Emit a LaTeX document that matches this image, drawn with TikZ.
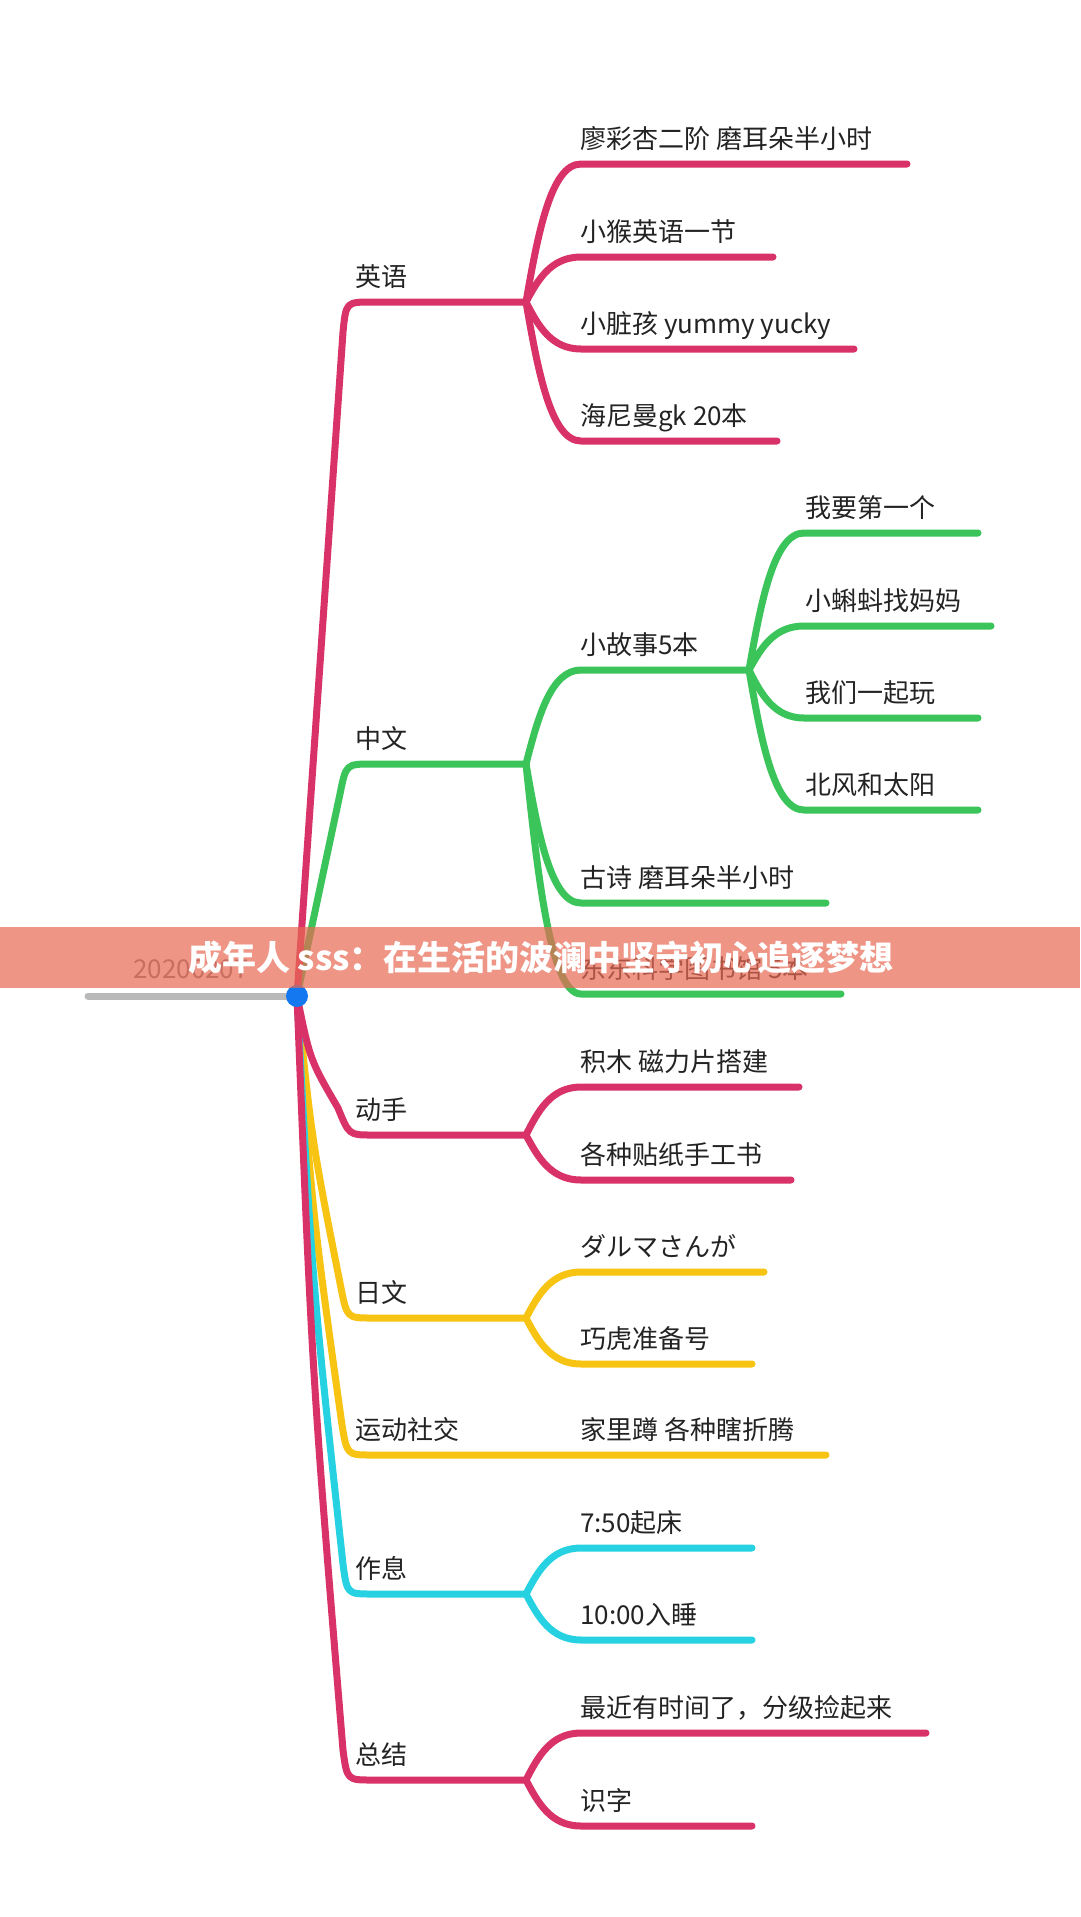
\documentclass[tikz,border=0pt]{standalone}
\usepackage{fontspec}
\setmainfont{Noto Sans CJK SC}
\definecolor{pk}{RGB}{216,50,104}
\definecolor{gr}{RGB}{58,196,90}
\definecolor{yl}{RGB}{247,196,20}
\definecolor{cy}{RGB}{38,210,225}
\definecolor{bl}{RGB}{20,120,240}
\definecolor{gy}{RGB}{185,185,185}
\definecolor{tx}{RGB}{35,35,35}
\definecolor{bn}{RGB}{232,105,84}
\definecolor{dt}{RGB}{125,125,125}
\begin{document}
\begin{tikzpicture}[x=1pt,y=-1pt,
  br/.style={line width=7pt, line cap=round, line join=round},
  lbl/.style={anchor=base west, inner sep=0pt, text=tx, font=\fontsize{26}{30}\selectfont},
]
\fill[white] (0,0) rectangle (1080,1917);
\useasboundingbox (0,0) rectangle (1080,1917);

% coordinates
\coordinate (root) at (297,996);
\coordinate (dateL) at (88,996);
\coordinate (fEN) at (526,302);
\coordinate (fZW) at (526,764);
\coordinate (fGS) at (749,670);
\coordinate (fDS) at (526,1135);
\coordinate (fJP) at (526,1318);
\coordinate (fYD) at (826,1455);
\coordinate (fZX) at (526,1594);
\coordinate (fZJ) at (526,1780);

\coordinate (e1) at (907,164);
\coordinate (e2) at (773,257);
\coordinate (e3) at (854,349);
\coordinate (e4) at (777,441);
\coordinate (g1) at (978,533);
\coordinate (g2) at (991,626);
\coordinate (g3) at (978,718);
\coordinate (g4) at (978,810);
\coordinate (z2) at (826,903);
\coordinate (z3) at (841,994);
\coordinate (d1) at (799,1087);
\coordinate (d2) at (791,1180);
\coordinate (j1) at (764,1272);
\coordinate (j2) at (752,1364);
\coordinate (x1) at (752,1548);
\coordinate (x2) at (752,1640);
\coordinate (s1) at (926,1733);
\coordinate (s2) at (752,1826);

% date line
\draw[br,gy] (dateL) -- (root);
\node[anchor=base, inner sep=0pt, text=dt, font=\fontsize{26}{30}\selectfont] (date) at (191,978) {20200207};

% main branches
\draw[br,yl] (root) .. controls (312,1142) .. (341,1288) .. controls (347,1318) .. (372,1318) -- (fJP);
\draw[br,yl] (root) .. controls (312,1210) .. (342,1425) .. controls (347,1455) .. (372,1455) -- (fYD);
\draw[br,cy] (root) .. controls (312,1280) .. (343,1564) .. controls (347,1594) .. (372,1594) -- (fZX);
\draw[br,pk] (root) .. controls (312,1373) .. (343,1750) .. controls (347,1780) .. (372,1780) -- (fZJ);
\draw[br,pk] (root) .. controls (310,1060) .. (338,1108) .. controls (349,1135) .. (372,1135) -- (fDS);
\draw[br,gr] (root) -- (340,794) .. controls (346,764) .. (372,764) -- (fZW);
\draw[br,pk] (root) -- (343,332) .. controls (346,302) .. (372,302) -- (fEN);

% English children
\draw[br,pk] (fEN) .. controls (538,233) and (551,164) .. (581,164) -- (e1);
\draw[br,pk] (fEN) .. controls (538,279.5) and (551,257) .. (581,257) -- (e2);
\draw[br,pk] (fEN) .. controls (538,325.5) and (551,349) .. (581,349) -- (e3);
\draw[br,pk] (fEN) .. controls (538,371.5) and (551,441) .. (581,441) -- (e4);

% Chinese children
\draw[br,gr] (fZW) .. controls (538,717) and (551,670) .. (581,670) -- (fGS);
\draw[br,gr] (fZW) .. controls (538,833.5) and (551,903) .. (581,903) -- (z2);
\draw[br,gr] (fZW) .. controls (538,879) and (551,994) .. (581,994) -- (z3);
\draw[br,gr] (fGS) .. controls (761,601.5) and (774,533) .. (804,533) -- (g1);
\draw[br,gr] (fGS) .. controls (761,648) and (774,626) .. (804,626) -- (g2);
\draw[br,gr] (fGS) .. controls (761,694) and (774,718) .. (804,718) -- (g3);
\draw[br,gr] (fGS) .. controls (761,740) and (774,810) .. (804,810) -- (g4);

% hands-on
\draw[br,pk] (fDS) .. controls (538,1111) and (551,1087) .. (581,1087) -- (d1);
\draw[br,pk] (fDS) .. controls (538,1157.5) and (551,1180) .. (581,1180) -- (d2);

% Japanese
\draw[br,yl] (fJP) .. controls (538,1295) and (551,1272) .. (581,1272) -- (j1);
\draw[br,yl] (fJP) .. controls (538,1341) and (551,1364) .. (581,1364) -- (j2);

% schedule
\draw[br,cy] (fZX) .. controls (538,1571) and (551,1548) .. (581,1548) -- (x1);
\draw[br,cy] (fZX) .. controls (538,1617) and (551,1640) .. (581,1640) -- (x2);

% summary
\draw[br,pk] (fZJ) .. controls (538,1756.5) and (551,1733) .. (581,1733) -- (s1);
\draw[br,pk] (fZJ) .. controls (538,1803) and (551,1826) .. (581,1826) -- (s2);

% root dot
\fill[bl] (root) circle (11);

% labels
\node[lbl] (tEN) at (355,286) {英语};
\node[lbl] (tZW) at (355,748) {中文};
\node[lbl] (tDS) at (355,1119) {动手};
\node[lbl] (tJP) at (355,1302) {日文};
\node[lbl] (tYD) at (355,1439) {运动社交};
\node[lbl] (tZX) at (355,1578) {作息};
\node[lbl] (tZJ) at (355,1764) {总结};

\node[lbl] (te1) at (580,148) {廖彩杏二阶 磨耳朵半小时};
\node[lbl] (te2) at (580,241) {小猴英语一节};
\node[lbl] (te3) at (580,333) {小脏孩 yummy yucky};
\node[lbl] (te4) at (580,425) {海尼曼gk 20本};

\node[lbl] (tGS) at (580,654) {小故事5本};
\node[lbl] (tg1) at (805,517) {我要第一个};
\node[lbl] (tg2) at (805,610) {小蝌蚪找妈妈};
\node[lbl] (tg3) at (805,702) {我们一起玩};
\node[lbl] (tg4) at (805,794) {北风和太阳};
\node[lbl] (tz2) at (580,887) {古诗 磨耳朵半小时};
\node[lbl] (tz3) at (580,978) {东东科学图书馆 5本};

\node[lbl] (td1) at (580,1071) {积木 磁力片搭建};
\node[lbl] (td2) at (580,1164) {各种贴纸手工书};
\node[lbl] (tj1) at (580,1256) {ダルマさんが};
\node[lbl] (tj2) at (580,1348) {巧虎准备号};
\node[lbl] (ty1) at (580,1439) {家里蹲 各种瞎折腾};
\node[lbl] (tx1) at (580,1532) {7:50起床};
\node[lbl] (tx2) at (580,1624) {10:00入睡};
\node[lbl] (ts1) at (580,1717) {最近有时间了，分级捡起来};
\node[lbl] (ts2) at (580,1810) {识字};

% banner
\fill[bn, opacity=0.7] (0,927) rectangle (1080,988);
\node[anchor=center, inner sep=0pt, text=white, font=\fontsize{34}{40}\selectfont\bfseries] (title) at (541,958) {成年人 sss：在生活的波澜中坚守初心追逐梦想};
\end{tikzpicture}
\end{document}
